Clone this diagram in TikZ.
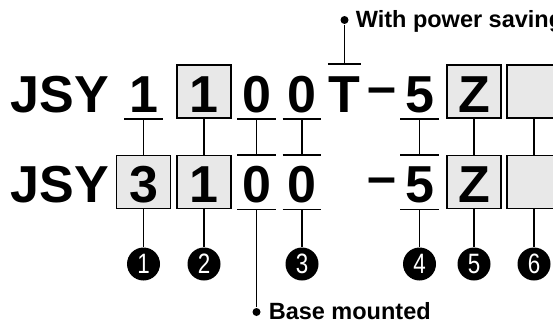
\documentclass[tikz,border=0pt]{standalone}
\usepackage{fontspec}
\setmainfont{Liberation Sans}

\tikzset{
	big/.style={font=\fontsize{52}{52}\selectfont\bfseries},
	cell/.style={big, inner sep=0pt, minimum height=53pt, text height=41pt, text depth=0pt},
	boxcell/.style={cell, draw, fill=black!9, minimum width=54pt},
	ulcell/.style={cell, minimum width=37pt},
	num/.style={circle, fill=black, inner sep=0pt, minimum size=33pt, text=white, font=\fontsize{28}{28}\selectfont},
	dot/.style={circle, fill=black, inner sep=0pt, minimum size=8pt},
	note/.style={font=\fontsize{23.5}{23.5}\selectfont\bfseries, inner sep=0pt, anchor=base west},
}

\begin{document}
\begin{tikzpicture}[x=1pt, y=-1pt, line width=1.6pt]
	\useasboundingbox (0,0) rectangle (553,324);

	% top row
	\node[big, inner sep=0pt, anchor=base west] (jsya) at (10,112) {JSY};
	\node[ulcell] (a1) at (143.5,91.5) {1};
	\node[boxcell] (a2) at (204,91.5) {1};
	\node[ulcell] (a3) at (256.5,91.5) {0};
	\node[ulcell] (a4) at (302,91.5) {0};
	\node[ulcell, minimum width=31pt] (at) at (344.5,91.5) {T};
	\node[big, inner sep=0pt, anchor=base] (dasha) at (381.5,104) {–};
	\node[ulcell] (a5) at (419.5,91.5) {5};
	\node[boxcell] (a6) at (474,91.5) {Z};
	\node[boxcell] (a7) at (534,91.5) {};

	% bottom row
	\node[big, inner sep=0pt, anchor=base west] (jsyb) at (10,202) {JSY};
	\node[boxcell] (b1) at (143.5,182) {3};
	\node[boxcell] (b2) at (204,182) {1};
	\node[ulcell] (b3) at (256.5,182) {0};
	\node[ulcell] (b4) at (302,182) {0};
	\node[big, inner sep=0pt, anchor=base] (dashb) at (381.5,194) {–};
	\node[ulcell] (b5) at (419.5,182) {5};
	\node[boxcell] (b6) at (474,182) {Z};
	\node[boxcell] (b7) at (534,182) {};

	% under- and overlines
	\foreach \c in {a1,a3,a4,a5,b3,b4,b5}
		\draw (\c.south west) -- (\c.south east);
	\foreach \c in {at,b3,b4,b5}
		\draw (\c.north west) -- (\c.north east);

	% links between the rows
	\foreach \i in {1,...,7}
		\draw (a\i.south) -- (b\i.north);

	% numbers
	\node[num] (n1) at (143.5,264) {\scalebox{0.8}[1]{1}};
	\node[num] (n2) at (204,264) {\scalebox{0.8}[1]{2}};
	\node[num] (n3) at (302,264) {\scalebox{0.8}[1]{3}};
	\node[num] (n4) at (419.5,264) {\scalebox{0.8}[1]{4}};
	\node[num] (n5) at (474,264) {\scalebox{0.8}[1]{5}};
	\node[num] (n6) at (534,264) {\scalebox{0.8}[1]{6}};
	\draw (b1.south) -- (n1);
	\draw (b2.south) -- (n2);
	\draw (b4.south) -- (n3);
	\draw (b5.south) -- (n4);
	\draw (b6.south) -- (n5);
	\draw (b7.south) -- (n6);

	% notes
	\node[dot] (pdot) at (344.5,20) {};
	\node[note] (power) at (355,27) {With power saving};
	\draw (at.north) -- (pdot);
	\node[dot] (bdot) at (256.5,312) {};
	\node[note] (base) at (268,319.5) {Base mounted};
	\draw (b3.south) -- (bdot);

\end{tikzpicture}
\end{document}
